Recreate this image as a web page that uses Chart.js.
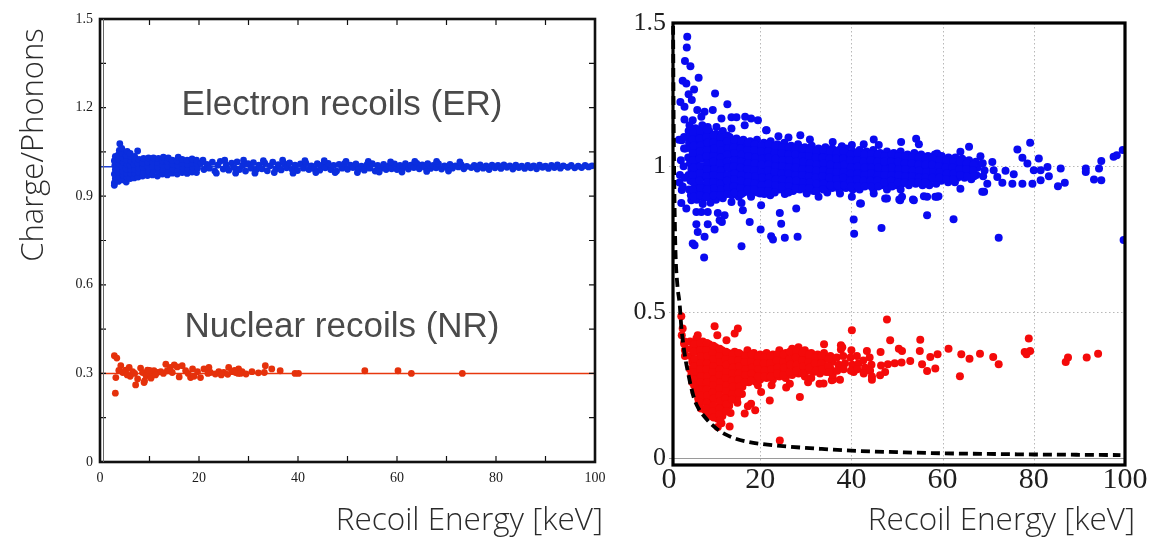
<!DOCTYPE html>
<html>
<head>
<meta charset="utf-8">
<script src="https://cdn.jsdelivr.net/npm/chart.js@4.4.0/dist/chart.umd.min.js"></script>
<style>
  html, body { margin: 0; padding: 0; background: #fff; width: 1149px; height: 537px; overflow: hidden; }
  #cLeft  { position: absolute; left: 0;     top: 0; }
  #cRight { position: absolute; left: 633px; top: 0; filter: blur(0.35px); }
</style>
</head>
<body>
<canvas id="cLeft" width="615" height="537"></canvas>
<canvas id="cRight" width="516" height="537"></canvas>
<script>
// ---------- Left panel: simulated charge/phonon ratio ----------
const leftXTicks = [0, 20, 40, 60, 80, 100];
const leftXLabels = ['0', '20', '40', '60', '80', '100'];
const leftYTicks = [0, 0.3, 0.6, 0.9, 1.2, 1.5];
const leftYLabels = ['0', '0.3', '0.6', '0.9', '1.2', '1.5'];
const leftXMinor = [10, 20, 30, 40, 50, 60, 70, 80, 90];
const leftYMinor = [0.15, 0.3, 0.45, 0.6, 0.75, 0.9, 1.05, 1.2, 1.35];

const erLevel = [[0, 1.0], [100, 1.0]];
const nrLevel = [[0, 0.3], [100, 0.3]];

const erLeft = [
  [2.9,0.937],[2.9,0.945],[3.1,0.96],[2.9,0.975],[3.1,0.99],[3.0,1.005],[2.9,1.02],[3.1,1.035],
  [3.7,0.95],[3.9,0.965],[3.8,0.98],[3.7,0.995],[3.9,1.01],[3.8,1.025],[3.7,1.04],[3.9,1.055],
  [4.5,0.955],[4.7,0.97],[4.6,0.985],[4.5,1.0],[4.7,1.015],[4.6,1.03],[4.5,1.045],[4.0,1.078],[4.4,1.062],
  [5.3,0.948],[5.5,0.963],[5.4,0.978],[5.3,0.993],[5.5,1.008],[5.4,1.023],[5.3,1.038],[5.5,1.052],
  [6.1,0.96],[6.3,0.975],[6.2,0.99],[6.1,1.005],[6.3,1.02],[6.2,1.035],[6.1,1.045],
  [6.9,0.962],[7.1,0.977],[7.0,0.992],[6.9,1.007],[7.1,1.022],[7.0,1.035],
  [7.7,0.965],[7.9,0.98],[7.8,0.995],[7.7,1.01],[7.9,1.025],[7.6,1.053],
  [8.6,0.968],[8.8,0.983],[8.7,0.998],[8.6,1.013],[8.8,1.028],
  [9.6,0.97],[9.8,0.985],[9.7,1.0],[9.6,1.015],[9.8,1.03],
  [10.6,0.972],[10.8,0.987],[10.7,1.002],[10.6,1.017],[10.8,1.03],
  [11.6,0.968],[11.8,0.984],[11.7,0.999],[11.6,1.014],[11.8,1.028],
  [12.6,0.975],[12.8,0.99],[12.7,1.005],[12.6,1.02],[12.8,1.032],
  [13.6,0.972],[13.8,0.987],[13.7,1.002],[13.6,1.017],[13.8,1.03],
  [14.6,0.978],[14.8,0.993],[14.7,1.008],[14.6,1.022],
  [15.6,0.975],[15.8,0.99],[15.7,1.005],[15.6,1.02],[15.8,1.032],
  [16.6,0.98],[16.8,0.995],[16.7,1.01],[16.6,1.025],
  [17.6,0.977],[17.8,0.992],[17.7,1.007],[17.6,1.022],
  [18.6,0.982],[18.8,0.997],[18.7,1.012],[18.6,1.026],
  [19.5,0.98],[19.7,0.995],[19.6,1.01],[19.5,1.022],
  [20.4,1.012],[21.0,0.99],[21.6,1.008],[22.1,0.995],[22.7,1.015],[23.2,0.985],[23.8,1.005],[24.3,1.018],
  [24.9,0.992],[25.5,1.006],[26.0,0.988],[26.6,1.012],[27.1,0.997],[27.7,1.016],[28.2,0.99],[28.8,1.004],
  [29.4,0.985],[29.9,1.01],[30.5,0.995],[31.0,1.014],[31.6,0.99],[32.1,1.005],[32.7,0.993],[33.3,1.012],
  [33.8,0.986],[34.4,1.003],[34.9,1.015],[35.5,0.992],[36.0,1.007],[36.6,0.989],[37.2,1.01],[37.7,0.996],
  [38.3,1.013],[38.8,0.991],[39.4,1.005],[39.9,0.987],[40.5,1.009],[41.1,0.995],[41.6,1.012],[42.2,0.99],
  [42.7,1.003],[43.3,0.993],[43.9,1.01],[44.4,0.988],[45.0,1.006],[45.5,0.996],[46.1,1.011],[46.6,0.99],
  [47.2,1.004],[47.8,0.985],[48.3,1.008],[48.9,0.995],[49.4,1.01],[50.0,0.991],[50.6,1.005],[51.1,0.997],
  [51.7,1.009],[52.2,0.99],[52.8,1.002],[53.4,0.988],[53.9,1.006],[54.5,0.995],[55.0,1.01],[55.6,0.985],
  [56.1,1.004],[56.7,0.994],[57.3,1.008],[57.8,0.99],[58.4,1.003],[58.9,0.993],[59.5,1.009],[60.0,0.99],
  [60.6,1.004],[61.2,0.996],[61.7,1.01],[62.3,0.992],[62.8,1.005],[63.4,0.997],[64.0,1.011],[64.5,0.993],
  [65.1,1.006],[65.6,0.998],[66.2,1.01],[66.8,0.994],[67.3,1.004],[67.9,0.996],[68.4,1.009],[69.0,0.992],
  [69.6,1.003],[70.1,0.997],[70.7,1.008],[71.2,0.995],[71.8,1.003],[72.4,0.999],[73.0,1.006],[73.5,0.993],
  [74.1,1.001],[75.0,0.997],[75.6,1.004],[76.2,0.992],[76.8,1.006],[77.4,0.995],[78.0,1.003],[78.6,0.99],
  [79.2,1.005],[79.8,0.996],[80.4,1.004],[81.0,0.994],[81.6,1.006],[82.2,0.998],[82.8,1.003],[83.4,0.992],
  [84.0,1.005],[84.6,0.997],[85.2,1.002],[85.8,0.994],[86.4,1.004],[87.0,0.996],[87.6,1.003],[88.2,0.993],
  [88.8,1.005],[89.4,0.998],[90.0,1.002],[90.6,0.994],[91.2,1.004],[91.8,0.997],[92.4,1.006],[93.0,0.995],
  [93.6,1.003],[94.5,0.998],[95.2,1.004],[95.9,0.996],[96.6,1.002],[97.3,0.997],[98.0,1.004],[98.7,0.999],[99.4,1.003],
  [20.8,1.022],[23.5,0.978],[25.2,1.022],[27.4,0.978],[29.0,1.022],[31.3,0.978],[33.0,1.02],[35.2,0.98],
  [36.9,1.022],[39.0,0.978],[41.4,1.02],[43.6,0.98],[45.3,1.02],[47.5,0.98],[49.7,1.018],[52.0,0.98],
  [54.2,1.018],[56.4,0.982],[58.7,1.016],[61.0,0.982],[63.6,1.018],[66.0,0.984],[68.0,1.018],[70.4,0.985],[72.7,1.016]
];

const nrLeft = [
  [2.9,0.36],[3.4,0.352],[3.1,0.233],[3.2,0.286],[4.2,0.326],[4.6,0.303],[5.2,0.311],[5.9,0.32],
  [6.6,0.306],[7.2,0.261],[7.6,0.281],[8.2,0.318],[8.6,0.303],[8.9,0.269],[9.3,0.292],[9.6,0.311],
  [9.9,0.298],[10.3,0.284],[10.6,0.303],[10.9,0.309],[11.6,0.303],[12.3,0.306],[13.3,0.331],[13.6,0.309],
  [14.6,0.303],[15.0,0.329],[15.6,0.322],[16.0,0.288],[16.6,0.326],[17.3,0.309],[18.3,0.286],[18.7,0.315],
  [19.7,0.306],[20.3,0.286],[21.0,0.315],[22.0,0.32],[22.3,0.303],[23.3,0.298],[24.0,0.306],[25.0,0.303],
  [26.0,0.32],[26.7,0.306],[27.4,0.303],[28.0,0.315],[28.7,0.306],[30.7,0.306],[33.4,0.326],[33.2,0.303],
  [34.7,0.315],[36.4,0.309],[39.4,0.3],[40.1,0.3],[53.5,0.309],[60.2,0.309],[62.9,0.3],[73.2,0.3],
  [6.1,0.29],[7.0,0.3],[11.2,0.295],[12.8,0.3],[17.8,0.3],[21.8,0.3],[25.8,0.297],[27.9,0.3],
  [29.5,0.298],[32.0,0.302],[3.8,0.31],[5.5,0.295],[9.0,0.275],[10.0,0.31],[14.2,0.32],[19.0,0.29],
  [24.5,0.295],[27.2,0.31],[28.4,0.3]
];

// ---------- Right panel: measured events ----------
const rightXTicks = [0, 20, 40, 60, 80, 100];
const rightXLabels = ['0', '20', '40', '60', '80', '100'];
const rightYTicks = [0, 0.5, 1, 1.5];
const rightYLabels = ['0', '0.5', '1', '1.5'];
const rightGridX = [20, 40, 60, 80];
const rightGridY = [0.5, 1];

// threshold curve (dashed)
const thresholdCurve = [
  [0.9,1.48],[1.0,1.2],[1.15,0.95],[1.4,0.72],[1.8,0.6],[2.35,0.525],[2.7,0.45],[3.1,0.394],
  [3.6,0.34],[4.2,0.291],[4.9,0.24],[5.6,0.2],[6.6,0.167],[7.8,0.142],[9.2,0.118],[10.8,0.097],
  [12.5,0.081],[14.4,0.068],[17,0.057],[20.3,0.049],[26.2,0.04],[33.5,0.032],[40,0.026],[50,0.021],
  [60,0.017],[70,0.015],[80,0.013],[90,0.012],[99,0.011]
];

const erRight = [
  // sparse upper tail at low energy
  [4.0,1.443],[3.9,1.406],[3.5,1.36],[4.7,1.342],[3.0,1.292],[3.8,1.283],[6.5,1.303],[4.3,1.246],
  [5.5,1.262],[5.0,1.226],[2.5,1.22],[3.4,1.203],[10.1,1.249],[12.8,1.212],[6.2,1.192],[7.8,1.186],
  [9.6,1.192],[3.4,1.16],[5.2,1.157],[7.1,1.169],[11.5,1.163],[13.7,1.167],[14.8,1.167],[16.7,1.169],
  [18.0,1.163],[19.5,1.157],[4.5,1.14],[8.5,1.134],[10.4,1.134],[13.7,1.129],[16.6,1.14],[21.3,1.123],
  [2.8,1.089],[3.3,1.06],[2.3,0.944],[2.8,0.918],[2.7,0.874],[3.8,0.855],[4.9,0.883],[6.0,0.843],
  [7.1,0.843],[8.5,0.843],[10.7,0.84],[12.2,0.832],[13.7,0.877],[15.9,0.874],[16.2,0.849],[20.2,0.866],
  [18.0,0.895],[6.0,0.801],[8.5,0.801],[11.1,0.815],[6.3,0.775],[7.8,0.758],[10.0,0.783],[11.6,0.809],
  [17.7,0.809],[20.1,0.783],[5.2,0.735],[5.6,0.729],[7.7,0.687],[15.9,0.726],[22.4,0.76],[22.8,0.749],
  [25.4,0.755],[28.2,0.758],[24.3,0.84],[24.6,0.803],[27.9,0.855],
  [2.2,1.09],[2.6,1.02],[2.4,0.97],[3.3,1.10],[3.6,1.06],[3.2,1.0],[3.5,0.96],[3.0,0.93],
  // outliers and high-energy tail
  [40.5,0.817],[40.6,0.769],[46.6,0.788],[56.6,0.832],[62.4,0.818],[72.3,0.755],[42.1,0.872],[47.4,0.889],
  [50.5,0.886],[53.5,0.886],[58.4,0.895],[59.1,0.897],
  [76.4,1.057],[79.2,1.08],[77.5,1.029],[78.6,1.009],[81.1,1.026],[80.0,0.986],[81.5,0.986],[83.0,0.997],
  [83.3,0.965],[81.5,0.952],[79.7,0.94],[85.9,0.992],[85.3,0.931],[86.8,0.943],[91.4,0.992],[91.4,0.98],
  [93.2,0.954],[94.8,0.952],[94.3,0.992],[94.8,1.018],[97.5,1.032],[98.2,1.037],[99.5,1.055],[75.6,0.972],
  [77.5,0.94],[75.3,0.94],[73.8,0.984],[73.1,0.943],[71.2,0.986],[72.0,0.963],[70.9,1.014],[69.8,0.94],
  [69.1,0.912],[99.7,0.747],
  // band edges
  [21.4,1.123],[24.0,1.102],[26.2,1.098],[28.8,1.106],[30.9,1.091],[35.9,1.083],[37.9,1.068],[40.1,1.072],
  [42.7,1.075],[44.9,1.091],[46.0,1.072],[50.9,1.083],[54.2,1.094],[54.8,1.075],[58.8,1.043],[63.9,1.049],
  [65.8,1.066],[68.3,1.034],
  [32.8,0.895],[41.9,0.872],[47.8,0.889],[50.7,0.883],[53.7,0.883],[55.9,0.897],[58.8,0.895],[63.9,0.923],
  [68.7,0.912],[20.0,0.906],[22.2,0.9],[25.5,0.912],[28.0,0.923],[30.2,0.906],[37.5,0.906],[40.1,0.895],
  [44.9,0.906],[51.1,0.895],[56.6,0.895],
  // dense core
  [4.3,1.12],[4.7,1.10],[4.4,1.08],[4.8,1.06],[4.2,1.03],[4.6,1.01],[4.9,0.99],[4.3,0.97],[4.7,0.95],[4.4,0.92],[4.8,0.90],
  [5.8,1.13],[6.2,1.105],[5.9,1.085],[6.3,1.06],[5.7,1.04],[6.1,1.02],[5.8,0.995],[6.2,0.975],[5.9,0.955],[6.3,0.93],[5.8,0.91],[6.1,0.885],
  [7.3,1.14],[7.7,1.115],[7.4,1.09],[7.8,1.07],[7.2,1.045],[7.6,1.025],[7.3,1.0],[7.7,0.98],[7.4,0.96],[7.8,0.935],[7.3,0.915],[7.6,0.89],[7.4,0.87],
  [8.8,1.12],[9.2,1.095],[8.9,1.075],[9.3,1.05],[8.7,1.03],[9.1,1.005],[8.8,0.985],[9.2,0.965],[8.9,0.94],[9.3,0.92],[8.8,0.895],[9.1,0.875],
  [10.3,1.11],[10.7,1.085],[10.4,1.06],[10.8,1.04],[10.2,1.015],[10.6,0.995],[10.3,0.97],[10.7,0.95],[10.4,0.925],[10.8,0.905],[10.3,0.885],
  [11.8,1.12],[12.2,1.09],[11.9,1.07],[12.3,1.045],[11.7,1.025],[12.1,1.0],[11.8,0.98],[12.2,0.955],[11.9,0.935],[12.3,0.91],[11.8,0.89],
  [13.3,1.10],[13.7,1.08],[13.4,1.055],[13.8,1.035],[13.2,1.01],[13.6,0.99],[13.3,0.965],[13.7,0.945],[13.4,0.92],[13.8,0.90],
  [14.8,1.095],[15.2,1.07],[14.9,1.05],[15.3,1.025],[14.7,1.005],[15.1,0.98],[14.8,0.96],[15.2,0.935],[14.9,0.915],[15.3,0.895],
  [16.3,1.09],[16.7,1.065],[16.4,1.04],[16.8,1.02],[16.2,0.995],[16.6,0.975],[16.3,0.95],[16.7,0.93],[16.4,0.91],
  [17.8,1.085],[18.2,1.06],[17.9,1.04],[18.3,1.015],[17.7,0.995],[18.1,0.97],[17.8,0.95],[18.2,0.925],[17.9,0.905],
  [19.3,1.09],[19.7,1.065],[19.4,1.045],[19.8,1.02],[19.2,1.0],[19.6,0.975],[19.3,0.955],[19.7,0.93],[19.4,0.91],
  [20.8,1.08],[21.2,1.06],[20.9,1.035],[21.3,1.015],[20.7,0.99],[21.1,0.97],[20.8,0.945],[21.2,0.925],[20.9,0.905],
  [22.3,1.085],[22.7,1.06],[22.4,1.04],[22.8,1.015],[22.2,0.995],[22.6,0.97],[22.3,0.95],[22.7,0.93],[22.4,0.91],
  [23.8,1.075],[24.2,1.055],[23.9,1.03],[24.3,1.01],[23.7,0.985],[24.1,0.965],[23.8,0.94],[24.2,0.92],
  [25.3,1.08],[25.7,1.055],[25.4,1.035],[25.8,1.01],[25.2,0.99],[25.6,0.965],[25.3,0.945],[25.7,0.925],[25.4,0.905],
  [26.8,1.07],[27.2,1.05],[26.9,1.025],[27.3,1.005],[26.7,0.98],[27.1,0.96],[26.8,0.935],[27.2,0.915],
  [28.3,1.075],[28.7,1.05],[28.4,1.03],[28.8,1.005],[28.2,0.985],[28.6,0.96],[28.3,0.94],[28.7,0.92],
  [29.8,1.065],[30.2,1.045],[29.9,1.02],[30.3,1.0],[29.7,0.975],[30.1,0.955],[29.8,0.93],[30.2,0.91],
  [31.3,1.07],[31.7,1.045],[31.4,1.025],[31.8,1.0],[31.2,0.98],[31.6,0.955],[31.3,0.935],[31.7,0.915],
  [32.8,1.06],[33.2,1.04],[32.9,1.015],[33.3,0.995],[32.7,0.97],[33.1,0.95],[32.8,0.925],
  [34.3,1.065],[34.7,1.04],[34.4,1.02],[34.8,0.995],[34.2,0.975],[34.6,0.95],[34.3,0.93],[34.7,0.91],
  [35.8,1.06],[36.2,1.035],[35.9,1.015],[36.3,0.99],[35.7,0.97],[36.1,0.945],[35.8,0.925],
  [37.3,1.055],[37.7,1.035],[37.4,1.01],[37.8,0.99],[37.2,0.965],[37.6,0.945],[37.3,0.92],
  [38.8,1.06],[39.2,1.035],[38.9,1.015],[39.3,0.99],[38.7,0.97],[39.1,0.945],[38.8,0.925],
  [40.3,1.05],[40.7,1.03],[40.4,1.005],[40.8,0.985],[40.2,0.96],[40.6,0.94],[40.3,0.92],
  [41.8,1.055],[42.2,1.03],[41.9,1.01],[42.3,0.985],[41.7,0.965],[42.1,0.94],[41.8,0.92],
  [43.3,1.05],[43.7,1.025],[43.4,1.005],[43.8,0.98],[43.2,0.96],[43.6,0.935],
  [44.8,1.055],[45.2,1.03],[44.9,1.01],[45.3,0.985],[44.7,0.965],[45.1,0.94],[44.8,0.92],
  [46.3,1.045],[46.7,1.025],[46.4,1.0],[46.8,0.98],[46.2,0.955],[46.6,0.935],
  [47.8,1.05],[48.2,1.03],[47.9,1.005],[48.3,0.985],[47.7,0.96],[48.1,0.94],[47.8,0.92],
  [49.3,1.045],[49.7,1.02],[49.4,1.0],[49.8,0.975],[49.2,0.955],[49.6,0.935],
  [50.8,1.05],[51.2,1.025],[50.9,1.005],[51.3,0.98],[50.7,0.96],[51.1,0.94],[50.8,0.92],
  [52.3,1.04],[52.7,1.02],[52.4,0.995],[52.8,0.975],[52.2,0.955],[52.6,0.935],
  [53.8,1.045],[54.2,1.025],[53.9,1.0],[54.3,0.98],[53.7,0.96],[54.1,0.94],
  [55.3,1.04],[55.7,1.015],[55.4,0.995],[55.8,0.975],[55.2,0.955],[55.6,0.935],
  [56.8,1.035],[57.2,1.015],[56.9,0.99],[57.3,0.97],[56.7,0.95],[57.1,0.935],
  [58.3,1.04],[58.7,1.02],[58.4,0.995],[58.8,0.975],[58.2,0.955],[58.6,0.94],
  [59.8,1.035],[60.2,1.01],[59.9,0.99],[60.3,0.97],[59.7,0.95],
  [61.3,1.03],[61.7,1.01],[61.4,0.985],[61.8,0.965],[61.2,0.945],
  [62.8,1.03],[63.2,1.005],[62.9,0.985],[63.3,0.96],[62.7,0.945],
  [64.3,1.025],[64.7,1.0],[64.4,0.98],[64.8,0.96],
  [65.8,1.02],[66.2,0.995],[65.9,0.975],[66.3,0.955],
  [67.3,1.015],[67.7,0.995],[67.4,0.97],
  [68.8,1.01],[69.2,0.985],[68.9,0.965],
  // dense core, in-between events
  [5.3,1.115],[5.2,1.09],[5.4,1.07],[5.2,1.045],[5.3,1.02],[5.4,0.995],[5.2,0.97],[5.3,0.945],[5.2,0.92],[5.4,0.895],
  [6.8,1.12],[6.7,1.095],[6.9,1.07],[6.8,1.05],[6.7,1.025],[6.9,1.0],[6.8,0.975],[6.7,0.95],[6.9,0.925],[6.8,0.9],
  [8.3,1.125],[8.2,1.1],[8.4,1.08],[8.3,1.055],[8.2,1.035],[8.4,1.01],[8.3,0.99],[8.2,0.965],[8.4,0.945],[8.3,0.92],[8.2,0.895],
  [9.8,1.105],[9.7,1.08],[9.9,1.06],[9.8,1.035],[9.7,1.015],[9.9,0.99],[9.8,0.97],[9.7,0.945],[9.9,0.925],[9.8,0.9],
  [11.3,1.1],[11.2,1.075],[11.4,1.055],[11.3,1.03],[11.2,1.01],[11.4,0.985],[11.3,0.965],[11.2,0.94],[11.4,0.92],[11.3,0.9],
  [12.8,1.105],[12.7,1.085],[12.9,1.06],[12.8,1.04],[12.7,1.015],[12.9,0.995],[12.8,0.97],[12.7,0.95],[12.9,0.925],[12.8,0.905],
  [14.3,1.09],[14.2,1.065],[14.4,1.045],[14.3,1.02],[14.2,1.0],[14.4,0.975],[14.3,0.955],[14.2,0.93],[14.4,0.91],
  [15.8,1.085],[15.7,1.06],[15.9,1.04],[15.8,1.015],[15.7,0.995],[15.9,0.97],[15.8,0.95],[15.7,0.925],[15.9,0.905],
  [17.3,1.08],[17.2,1.055],[17.4,1.035],[17.3,1.01],[17.2,0.99],[17.4,0.965],[17.3,0.945],[17.2,0.92],
  [18.8,1.075],[18.7,1.055],[18.9,1.03],[18.8,1.01],[18.7,0.985],[18.9,0.965],[18.8,0.94],[18.7,0.92],
  [20.3,1.07],[20.2,1.05],[20.4,1.025],[20.3,1.005],[20.2,0.98],[20.4,0.96],[20.3,0.935],[20.2,0.915],
  [21.8,1.075],[21.7,1.05],[21.9,1.03],[21.8,1.005],[21.7,0.985],[21.9,0.96],[21.8,0.94],[21.7,0.915],
  [23.3,1.07],[23.2,1.045],[23.4,1.025],[23.3,1.0],[23.2,0.98],[23.4,0.955],[23.3,0.935],[23.2,0.91],
  [24.8,1.065],[24.7,1.045],[24.9,1.02],[24.8,1.0],[24.7,0.975],[24.9,0.955],[24.8,0.93],
  [26.3,1.065],[26.2,1.04],[26.4,1.02],[26.3,0.995],[26.2,0.975],[26.4,0.95],[26.3,0.93],[26.2,0.91],
  [27.8,1.06],[27.7,1.04],[27.9,1.015],[27.8,0.995],[27.7,0.97],[27.9,0.95],[27.8,0.925],
  [29.3,1.06],[29.2,1.035],[29.4,1.015],[29.3,0.99],[29.2,0.97],[29.4,0.945],[29.3,0.925],
  [30.8,1.055],[30.7,1.035],[30.9,1.01],[30.8,0.99],[30.7,0.965],[30.9,0.945],[30.8,0.925],
  [32.3,1.05],[32.2,1.03],[32.4,1.005],[32.3,0.985],[32.2,0.96],[32.4,0.94],[32.3,0.915],
  [33.8,1.055],[33.7,1.03],[33.9,1.01],[33.8,0.985],[33.7,0.965],[33.9,0.94],[33.8,0.92],
  [35.3,1.05],[35.2,1.025],[35.4,1.005],[35.3,0.98],[35.2,0.96],[35.4,0.935],
  [36.8,1.045],[36.7,1.025],[36.9,1.0],[36.8,0.98],[36.7,0.955],[36.9,0.935],
  [38.3,1.05],[38.2,1.025],[38.4,1.005],[38.3,0.98],[38.2,0.96],[38.4,0.935],
  [39.8,1.04],[39.7,1.02],[39.9,0.995],[39.8,0.975],[39.7,0.95],[39.9,0.93],
  [41.3,1.045],[41.2,1.02],[41.4,1.0],[41.3,0.975],[41.2,0.955],[41.4,0.93],
  [42.8,1.04],[42.7,1.015],[42.9,0.995],[42.8,0.97],[42.7,0.95],[42.9,0.93],
  [44.3,1.04],[44.2,1.02],[44.4,0.995],[44.3,0.975],[44.2,0.95],[44.4,0.93],
  [45.8,1.04],[45.7,1.015],[45.9,0.995],[45.8,0.97],[45.7,0.95],[45.9,0.93],
  [47.3,1.035],[47.2,1.015],[47.4,0.99],[47.3,0.97],[47.2,0.945],
  [48.8,1.04],[48.7,1.015],[48.9,0.995],[48.8,0.97],[48.7,0.95],[48.9,0.93],
  [50.3,1.035],[50.2,1.015],[50.4,0.99],[50.3,0.97],[50.2,0.945],
  [51.8,1.035],[51.7,1.01],[51.9,0.99],[51.8,0.965],[51.7,0.945],
  [53.3,1.03],[53.2,1.01],[53.4,0.985],[53.3,0.965],[53.2,0.945],
  [54.8,1.03],[54.7,1.005],[54.9,0.985],[54.8,0.96],[54.7,0.945],
  [56.3,1.025],[56.2,1.005],[56.4,0.98],[56.3,0.96],[56.2,0.945],
  [57.8,1.025],[57.7,1.005],[57.9,0.98],[57.8,0.96],
  [59.3,1.02],[59.2,1.0],[59.4,0.98],[59.3,0.96],
  [60.8,1.02],[60.7,0.995],[60.9,0.975],[60.8,0.955],
  [62.3,1.015],[62.2,0.995],[62.4,0.975],[62.3,0.955],
  [63.8,1.015],[63.7,0.99],[63.9,0.97],
  [65.3,1.01],[65.2,0.99],[65.4,0.965],
  [66.8,1.005],[66.7,0.985],[66.9,0.965]
];

const nrRight = [
  // outliers and sparse points
  [2.7,0.486],[3.0,0.444],[2.8,0.421],[3.3,0.392],[3.5,0.37],[10.0,0.452],[10.6,0.421],[15.1,0.444],
  [14.4,0.427],[6.3,0.421],[7.1,0.392],[12.6,0.404],[9.3,0.147],[10.7,0.107],[13.3,0.109],[16.6,0.153],
  [18.0,0.187],[18.9,0.164],[17.3,0.178],[24.3,0.061],[28.7,0.21],[22.1,0.198],[25.7,0.242],[20.2,0.227],
  [19.1,0.261],
  [47.8,0.475],[40.1,0.438],[48.5,0.404],[55.1,0.406],[37.7,0.387],[37.7,0.372],[43.4,0.367],[46.4,0.364],
  [50.4,0.375],[51.1,0.367],[55.0,0.367],[57.3,0.347],[58.9,0.356],[61.3,0.375],[64.1,0.356],[65.9,0.341],
  [68.2,0.358],[71.1,0.347],[72.3,0.322],[63.8,0.281],[58.4,0.307],[56.6,0.299],[55.5,0.322],[78.9,0.41],
  [78.0,0.364],[79.2,0.367],[78.4,0.356],[87.0,0.33],[87.5,0.345],[91.6,0.345],[94.1,0.358],[52.9,0.333],
  [44.5,0.269],[42.7,0.295],[40.5,0.295],[37.5,0.269],[35.7,0.267],[33.9,0.256],[47.4,0.295],[46.3,0.284],
  [46.5,0.318],[48.0,0.322],[49.5,0.325],[51.0,0.328],
  [11.5,0.12],[13.5,0.155],[15.0,0.19],[16.0,0.22],[19.5,0.25],[22.5,0.25],[26.5,0.255],[30.5,0.26],
  [33.0,0.255],[36.0,0.27],[38.0,0.38],[40.0,0.37],[34.0,0.39],
  // dense core
  [3.4,0.40],[3.7,0.375],[3.5,0.35],
  [4.6,0.40],[5.0,0.375],[4.7,0.35],[5.1,0.33],[4.6,0.305],[4.9,0.285],[5.1,0.26],
  [6.0,0.41],[6.4,0.385],[6.1,0.365],[6.5,0.34],[6.0,0.32],[6.3,0.295],[6.1,0.275],[6.5,0.25],[6.2,0.23],[6.4,0.205],[6.5,0.19],
  [7.4,0.40],[7.8,0.375],[7.5,0.355],[7.9,0.33],[7.4,0.31],[7.7,0.285],[7.5,0.265],[7.9,0.24],[7.6,0.22],[7.8,0.195],[7.9,0.165],
  [8.8,0.39],[9.2,0.365],[8.9,0.345],[9.3,0.32],[8.8,0.30],[9.1,0.275],[8.9,0.255],[9.3,0.23],[9.0,0.21],[9.2,0.185],[8.9,0.165],[9.3,0.145],
  [10.2,0.38],[10.6,0.355],[10.3,0.335],[10.7,0.31],[10.2,0.29],[10.5,0.265],[10.3,0.245],[10.7,0.22],[10.4,0.20],[10.6,0.175],[10.3,0.155],[10.7,0.135],
  [11.6,0.37],[12.0,0.345],[11.7,0.325],[12.1,0.30],[11.6,0.28],[11.9,0.255],[11.7,0.235],[12.1,0.21],[11.8,0.19],[12.0,0.165],[11.7,0.145],
  [13.0,0.36],[13.4,0.335],[13.1,0.315],[13.5,0.29],[13.0,0.27],[13.3,0.245],[13.1,0.225],[13.5,0.20],[13.2,0.18],
  [14.4,0.365],[14.8,0.34],[14.5,0.32],[14.9,0.295],[14.4,0.275],[14.7,0.25],[14.5,0.23],[14.9,0.205],
  [15.8,0.355],[16.2,0.335],[15.9,0.31],[16.3,0.29],[15.8,0.27],[16.1,0.245],
  [17.2,0.37],[17.6,0.345],[17.3,0.325],[17.7,0.30],[17.2,0.28],[17.5,0.26],
  [18.6,0.36],[19.0,0.34],[18.7,0.315],[19.1,0.295],[18.6,0.275],
  [20.0,0.355],[20.4,0.335],[20.1,0.31],[20.5,0.29],[20.0,0.27],
  [21.4,0.36],[21.8,0.34],[21.5,0.32],[21.9,0.295],[21.4,0.275],
  [22.8,0.355],[23.2,0.33],[22.9,0.31],[23.3,0.29],[22.8,0.27],
  [24.2,0.37],[24.6,0.345],[24.3,0.325],[24.7,0.30],[24.2,0.28],
  [25.6,0.36],[26.0,0.335],[25.7,0.315],[26.1,0.295],[25.6,0.275],
  [27.0,0.375],[27.4,0.35],[27.1,0.33],[27.5,0.305],[27.0,0.285],
  [28.4,0.38],[28.8,0.355],[28.5,0.335],[28.9,0.31],[28.4,0.29],
  [29.8,0.37],[30.2,0.345],[29.9,0.325],[30.3,0.30],[29.8,0.28],
  [31.2,0.36],[31.6,0.34],[31.3,0.315],[31.7,0.295],[31.2,0.275],
  [32.6,0.355],[33.0,0.335],[32.7,0.31],[33.1,0.29],
  [34.0,0.36],[34.4,0.34],[34.1,0.315],[34.5,0.295],
  [35.4,0.35],[35.8,0.33],[35.5,0.305],[35.9,0.285],
  [36.8,0.345],[37.2,0.32],[36.9,0.30],
  [38.2,0.35],[38.6,0.325],[38.3,0.305],
  [39.8,0.345],[40.2,0.32],[39.9,0.30],
  [41.2,0.35],[41.6,0.325],[41.3,0.305],
  [42.6,0.335],[43.0,0.31],[42.7,0.29],
  [44.0,0.345],[44.4,0.32],[44.1,0.30],[44.5,0.28],
  // dense core, in-between events
  [5.5,0.39],[5.4,0.365],[5.6,0.34],[5.5,0.315],[5.4,0.295],[5.6,0.27],[5.5,0.25],[5.6,0.225],
  [6.9,0.395],[6.8,0.37],[7.0,0.35],[6.9,0.325],[6.8,0.305],[7.0,0.28],[6.9,0.26],[6.8,0.235],[7.0,0.215],[6.9,0.19],[7.0,0.17],
  [8.3,0.395],[8.2,0.37],[8.4,0.35],[8.3,0.325],[8.2,0.305],[8.4,0.28],[8.3,0.26],[8.2,0.235],[8.4,0.215],[8.3,0.19],[8.2,0.17],[8.4,0.15],
  [9.7,0.385],[9.6,0.36],[9.8,0.34],[9.7,0.315],[9.6,0.295],[9.8,0.27],[9.7,0.25],[9.6,0.225],[9.8,0.205],[9.7,0.18],[9.6,0.16],[9.8,0.14],
  [11.1,0.375],[11.0,0.35],[11.2,0.33],[11.1,0.305],[11.0,0.285],[11.2,0.26],[11.1,0.24],[11.0,0.215],[11.2,0.195],[11.1,0.17],[11.0,0.15],[11.2,0.13],
  [12.5,0.365],[12.4,0.34],[12.6,0.32],[12.5,0.295],[12.4,0.275],[12.6,0.25],[12.5,0.23],[12.4,0.205],[12.6,0.185],[12.5,0.16],
  [13.9,0.355],[13.8,0.335],[14.0,0.31],[13.9,0.29],[13.8,0.265],[14.0,0.245],[13.9,0.22],[13.8,0.2],
  [15.3,0.36],[15.2,0.335],[15.4,0.315],[15.3,0.29],[15.2,0.27],[15.4,0.245],[15.3,0.225],
  [16.7,0.35],[16.6,0.33],[16.8,0.305],[16.7,0.285],[16.6,0.26],
  [18.1,0.355],[18.0,0.33],[18.2,0.31],[18.1,0.29],[18.0,0.265],
  [19.5,0.35],[19.4,0.325],[19.6,0.305],[19.5,0.28],
  [20.9,0.345],[20.8,0.325],[21.0,0.3],[20.9,0.28],
  [22.3,0.35],[22.2,0.325],[22.4,0.305],[22.3,0.28],
  [23.7,0.355],[23.6,0.335],[23.8,0.31],[23.7,0.29],
  [25.1,0.355],[25.0,0.33],[25.2,0.31],[25.1,0.285],
  [26.5,0.365],[26.4,0.34],[26.6,0.32],[26.5,0.295],
  [27.9,0.365],[27.8,0.345],[28.0,0.32],[27.9,0.3],
  [29.3,0.36],[29.2,0.335],[29.4,0.315],[29.3,0.29],
  [30.7,0.355],[30.6,0.33],[30.8,0.31],
  [32.1,0.345],[32.0,0.325],[32.2,0.3],
  [33.5,0.35],[33.4,0.325],[33.6,0.305],
  [35.0,0.34],[34.9,0.315],[35.1,0.295]
];

const toPts = arr => arr.map(([x, y]) => ({ x, y }));

const serif = '"Liberation Serif", "Times New Roman", serif';
const lightSans = '"Open Sans", "DejaVu Sans", sans-serif';

// ---------- Left panel decorations: frame, inward ticks, text ----------
const leftDecor = {
  id: 'leftDecor',
  afterDatasetsDraw(chart) {
    const { ctx, chartArea: a, scales: { x, y } } = chart;
    ctx.save();
    ctx.strokeStyle = '#111';
    ctx.lineWidth = 1.2;
    ctx.beginPath();
    leftXMinor.forEach(v => {
      const px = x.getPixelForValue(v);
      ctx.moveTo(px, a.bottom); ctx.lineTo(px, a.bottom - 6);
      ctx.moveTo(px, a.top); ctx.lineTo(px, a.top + 6);
    });
    leftYMinor.forEach(v => {
      const py = y.getPixelForValue(v);
      ctx.moveTo(a.left, py); ctx.lineTo(a.left + 6, py);
      ctx.moveTo(a.right, py); ctx.lineTo(a.right - 6, py);
    });
    ctx.stroke();
    ctx.lineWidth = 2.6;
    ctx.strokeRect(a.left, a.top, a.right - a.left, a.bottom - a.top);
    ctx.lineWidth = 1;
    ctx.strokeStyle = '#666';
    ctx.beginPath();
    ctx.moveTo(a.left + 3.5, a.top); ctx.lineTo(a.left + 3.5, a.bottom);
    ctx.stroke();

    // annotations
    ctx.fillStyle = '#4a4a4a';
    ctx.font = '35px "Liberation Sans", Arial, sans-serif';
    ctx.textAlign = 'center';
    ctx.textBaseline = 'alphabetic';
    ctx.fillText('Electron recoils (ER)', 342, 115);
    ctx.fillText('Nuclear recoils (NR)', 342, 337);

    // axis titles
    ctx.fillStyle = '#2a2a2a';
    ctx.font = '300 31.5px ' + lightSans;
    ctx.textAlign = 'right';
    ctx.fillText('Recoil Energy [keV]', 603, 530);
    ctx.save();
    ctx.translate(43, 145);
    ctx.rotate(-Math.PI / 2);
    ctx.textAlign = 'center';
    ctx.font = '300 31px ' + lightSans;
    ctx.fillText('Charge/Phonons', 0, 0);
    ctx.restore();
    ctx.restore();
  }
};

// ---------- Right panel decorations: dotted grid, frame, title ----------
const rightDecor = {
  id: 'rightDecor',
  beforeDatasetsDraw(chart) {
    const { ctx, chartArea: a, scales: { x, y } } = chart;
    ctx.save();
    ctx.strokeStyle = '#b8b8b8';
    ctx.lineWidth = 1;
    ctx.setLineDash([1.5, 2.5]);
    ctx.beginPath();
    rightGridX.forEach(v => {
      const px = Math.round(x.getPixelForValue(v)) + 0.5;
      ctx.moveTo(px, a.top); ctx.lineTo(px, a.bottom);
    });
    rightGridY.forEach(v => {
      const py = Math.round(y.getPixelForValue(v)) + 0.5;
      ctx.moveTo(a.left, py); ctx.lineTo(a.right, py);
    });
    ctx.stroke();
    ctx.setLineDash([]);
    ctx.strokeStyle = '#9a9a9a';
    ctx.beginPath();
    const p0 = Math.round(y.getPixelForValue(0)) + 0.5;
    ctx.moveTo(a.left, p0); ctx.lineTo(a.right, p0);
    ctx.stroke();
    ctx.restore();
  },
  afterDatasetsDraw(chart) {
    const { ctx, chartArea: a } = chart;
    ctx.save();
    ctx.strokeStyle = '#000';
    ctx.lineWidth = 3.2;
    ctx.strokeRect(a.left + 4, a.top, a.right - a.left - 4, a.bottom - a.top);
    ctx.fillStyle = '#2a2a2a';
    ctx.font = '300 31.5px ' + lightSans;
    ctx.textAlign = 'right';
    ctx.textBaseline = 'alphabetic';
    ctx.fillText('Recoil Energy [keV]', 1135 - 633, 530);
    ctx.restore();
  }
};

new Chart(document.getElementById('cLeft'), {
  type: 'scatter',
  data: {
    datasets: [
      { label: 'ER', data: toPts(erLeft), backgroundColor: '#0b2ede', pointRadius: 3.4, pointBorderWidth: 0, order: 1 },
      { label: 'NR', data: toPts(nrLeft), backgroundColor: '#e5310b', pointRadius: 3.4, pointBorderWidth: 0, order: 1 },
      { type: 'line', label: 'ER level', data: toPts(erLevel), borderColor: '#1d40d4', borderWidth: 1.5, pointRadius: 0, order: 2 },
      { type: 'line', label: 'NR level', data: toPts(nrLevel), borderColor: '#e8380f', borderWidth: 1.5, pointRadius: 0, order: 2 }
    ]
  },
  options: {
    responsive: false, animation: false, devicePixelRatio: 1,
    layout: { padding: { left: 0, right: 20, top: 19, bottom: 0 } },
    plugins: { legend: { display: false }, tooltip: { enabled: false } },
    scales: {
      x: {
        type: 'linear', min: 0, max: 100,
        afterFit(s) { s.height = 75; },
        afterBuildTicks(s) { s.ticks = leftXTicks.map(v => ({ value: v })); },
        grid: { display: false, drawTicks: false }, border: { display: false },
        ticks: { padding: 8, color: '#1a1a1a', font: { family: serif, size: 14 }, maxRotation: 0, autoSkip: false,
                 callback: (v, i) => leftXLabels[i] }
      },
      y: {
        type: 'linear', min: 0, max: 1.5,
        afterFit(s) { s.width = 100; },
        afterBuildTicks(s) { s.ticks = leftYTicks.map(v => ({ value: v })); },
        grid: { display: false, drawTicks: false }, border: { display: false },
        ticks: { padding: 7, color: '#1a1a1a', font: { family: serif, size: 14 }, autoSkip: false,
                 callback: (v, i) => leftYLabels[i] }
      }
    }
  },
  plugins: [leftDecor]
});

new Chart(document.getElementById('cRight'), {
  type: 'scatter',
  data: {
    datasets: [
      { type: 'line', label: 'threshold', data: toPts(thresholdCurve), borderColor: '#000', borderWidth: 3.8,
        borderDash: [9, 5], pointRadius: 0, cubicInterpolationMode: 'monotone', order: 0 },
      { label: 'ER', data: toPts(erRight), backgroundColor: '#0a0af0', pointRadius: 4, pointBorderWidth: 0, order: 1 },
      { label: 'NR', data: toPts(nrRight), backgroundColor: '#f40a0a', pointRadius: 4, pointBorderWidth: 0, order: 1 }
    ]
  },
  options: {
    responsive: false, animation: false, devicePixelRatio: 1,
    layout: { padding: { left: 0, right: 24, top: 23, bottom: 0 } },
    plugins: { legend: { display: false }, tooltip: { enabled: false } },
    scales: {
      x: {
        type: 'linear', min: 0, max: 100,
        afterFit(s) { s.height = 72; },
        afterBuildTicks(s) { s.ticks = rightXTicks.map(v => ({ value: v })); },
        grid: { display: false, drawTicks: false }, border: { display: false },
        ticks: { padding: -3, color: '#1e1e1e', font: { family: serif, size: 30 }, maxRotation: 0, autoSkip: false,
                 callback: (v, i) => rightXLabels[i] }
      },
      y: {
        type: 'linear', min: -0.023, max: 1.49,
        afterFit(s) { s.width = 36; },
        afterBuildTicks(s) { s.ticks = rightYTicks.map(v => ({ value: Math.min(v, s.max) })); },
        grid: { display: false, drawTicks: false }, border: { display: false },
        ticks: { padding: 3, color: '#1e1e1e', font: { family: serif, size: 26 }, autoSkip: false,
                 callback: (v, i) => rightYLabels[i] }
      }
    }
  },
  plugins: [rightDecor]
});
</script>
</body>
</html>
